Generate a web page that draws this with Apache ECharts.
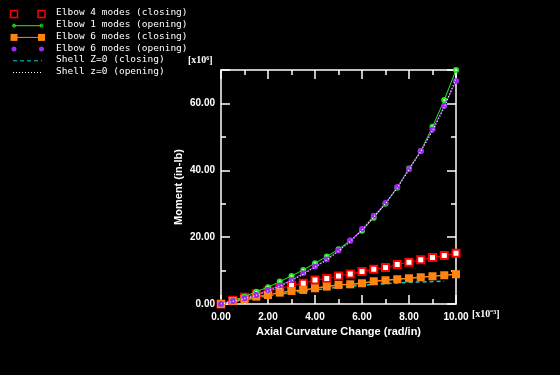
<!DOCTYPE html>
<html lang="en">
<head>
    <meta charset="UTF-8">
    <title>Moment vs Axial Curvature Change</title>
    <script src="https://cdn.jsdelivr.net/npm/echarts@6.0.0/dist/echarts.min.js"></script>
    <style>
        html, body { margin: 0; padding: 0; background: #000; }
    </style>
</head>
<body>
<div id="chart" style="width: 560px; height:375px;"></div>
<script>
    // curvature change (x10^-3 rad/in)
    var curvature = [0, 0.5, 1, 1.5, 2, 2.5, 3, 3.5, 4, 4.5, 5, 5.5, 6, 6.5, 7, 7.5, 8, 8.5, 9, 9.5, 10];

    // moment (x10^6 in-lb)
    var elbow4Closing = [0, 1.1, 2.0, 3.0, 3.9, 4.7, 5.5, 6.2, 7.2, 7.6, 8.4, 9.0, 9.7, 10.4, 10.9, 11.8, 12.5, 13.2, 13.9, 14.5, 15.2];
    var elbow1Opening = [0, 1.0, 2.2, 3.7, 5.0, 6.7, 8.4, 10.2, 12.2, 14.2, 16.4, 19.0, 21.9, 25.8, 30.0, 34.8, 40.5, 45.8, 53.0, 61.0, 70.0];
    var elbow6Closing = [0, 0.9, 1.5, 2.2, 2.7, 3.4, 3.9, 4.2, 4.7, 5.2, 5.7, 5.9, 6.2, 6.8, 7.1, 7.4, 7.7, 8.0, 8.3, 8.6, 8.9];
    var elbow6Opening = [0, 0.9, 1.7, 2.7, 4.2, 5.5, 7.2, 9.2, 11.2, 13.4, 16.0, 18.9, 22.4, 26.4, 30.2, 35.0, 40.3, 45.8, 52.2, 59.2, 66.7];
    var shellClosing = [0, 0.6, 1.2, 1.8, 2.4, 2.9, 3.4, 3.8, 4.2, 4.6, 5.0, 5.3, 5.6, 5.9, 6.1, 6.3, 6.5, 6.6, 6.7, 6.8];
    var shellOpening = [0, 0.8, 1.6, 2.6, 3.9, 5.3, 7.0, 8.9, 11.0, 13.2, 15.8, 18.7, 22.1, 26.0, 30.0, 34.7, 40.2, 45.6, 51.8, 58.8, 67.5];

    var seriesNames = ['Elbow 4 modes (closing)', 'Elbow 1 modes (opening)', 'Elbow 6 modes (closing)',
        'Elbow 6 modes (opening)', 'Shell Z=0 (closing)', 'Shell z=0 (opening)'];

    var xTicks = [0, 2, 4, 6, 8, 10];
    var yTicks = [0, 20, 40, 60];

    function pairs(ys) {
        return ys.map(function (y, i) { return [curvature[i], y]; });
    }

    var RED = '#ff0000', GREEN = '#22ee22', ORANGE = '#ff8410', PURPLE = '#9a2cf0', CYAN = '#00d2c8', WHITE = '#ffffff';

    var chart = echarts.init(document.getElementById('chart'));

    function axisLine() { return { onZero: false, lineStyle: { color: '#fff', width: 1.5 } }; }
    function tick() { return { show: true, inside: true, length: 9, lineStyle: { color: '#fff', width: 1.5 } }; }
    function minor() { return { show: true, splitNumber: 2, length: 5, lineStyle: { color: '#fff', width: 1.5 } }; }
    var labelFont = { color: '#fff', fontFamily: 'Liberation Sans', fontWeight: 'bold', fontSize: 10 };

    // legend drawn by hand: two symbols per row like the original plot
    var legendRows = [
        { color: RED, line: false, sym: 'openrect' },
        { color: GREEN, line: 'solid', sym: 'plus' },
        { color: ORANGE, line: 'solid', sym: 'rect' },
        { color: PURPLE, line: false, sym: 'dot' },
        { color: CYAN, line: 'dashed', sym: null },
        { color: WHITE, line: 'dotted', sym: null }
    ];
    var graphics = [];
    legendRows.forEach(function (r, i) {
        var y = 14 + i * 11.7;
        if (r.line) {
            graphics.push({ type: 'line', shape: { x1: 13, y1: y, x2: 42, y2: y },
                style: { stroke: r.color, lineWidth: 1, lineDash: r.line === 'dashed' ? [4, 3] : (r.line === 'dotted' ? [1, 2] : null) } });
        }
        [14, 41.5].forEach(function (x) {
            if (r.sym === 'openrect') {
                graphics.push({ type: 'rect', shape: { x: x - 3.5, y: y - 3.5, width: 7, height: 7 }, style: { fill: null, stroke: r.color, lineWidth: 1.5 } });
            } else if (r.sym === 'rect') {
                graphics.push({ type: 'rect', shape: { x: x - 3.5, y: y - 3.5, width: 7, height: 7 }, style: { fill: r.color } });
            } else if (r.sym === 'dot') {
                graphics.push({ type: 'circle', shape: { cx: x, cy: y, r: 2.5 }, style: { fill: r.color } });
            } else if (r.sym === 'plus') {
                graphics.push({ type: 'circle', shape: { cx: x, cy: y, r: 1.5 }, style: { fill: null, stroke: r.color, lineWidth: 1 } });
            }
        });
        graphics.push({ type: 'text', left: 56, top: y - 6,
            style: { text: seriesNames[i], fill: '#fff', font: '9.5px "DejaVu Sans Mono"' } });
    });
    graphics.push({ type: 'text', left: 188, top: 55,
        style: { text: '[x10⁶]', fill: '#fff', font: 'bold 10px "Liberation Serif"' } });
    graphics.push({ type: 'text', left: 472, top: 309,
        style: { text: '[x10⁻³]', fill: '#fff', font: 'bold 10px "Liberation Serif"' } });

    var option = {
        backgroundColor: '#000',
        animation: false,
        graphic: graphics,
        grid: { left: 221, right: 104, top: 70, bottom: 71, containLabel: false },
        xAxis: [
            {
                type: 'value', min: 0, max: 10, interval: 2,
                name: 'Axial Curvature Change (rad/in)', nameLocation: 'middle', nameGap: 22,
                nameTextStyle: { color: '#fff', fontFamily: 'Liberation Sans', fontWeight: 'bold', fontSize: 11 },
                axisLine: axisLine(), axisTick: tick(), minorTick: minor(),
                splitLine: { show: false },
                axisLabel: Object.assign({ margin: 8, formatter: function (v) {
                    return xTicks.indexOf(v) >= 0 ? v.toFixed(2) : ''; } }, labelFont)
            },
            {
                type: 'value', min: 0, max: 10, interval: 2, position: 'top',
                axisLine: axisLine(), axisTick: tick(), minorTick: minor(),
                splitLine: { show: false }, axisLabel: { show: false }
            }
        ],
        yAxis: [
            {
                type: 'value', min: 0, max: 70, interval: 20,
                name: 'Moment (in-lb)', nameLocation: 'middle', nameGap: 37, nameRotate: 90,
                nameTextStyle: { color: '#fff', fontFamily: 'Liberation Sans', fontWeight: 'bold', fontSize: 11 },
                axisLine: axisLine(), axisTick: tick(), minorTick: minor(),
                splitLine: { show: false },
                axisLabel: Object.assign({ margin: 6, showMaxLabel: false, formatter: function (v) {
                    return yTicks.indexOf(v) >= 0 ? v.toFixed(2) : ''; } }, labelFont)
            },
            {
                type: 'value', min: 0, max: 70, interval: 20, position: 'right',
                axisLine: axisLine(), axisTick: tick(), minorTick: minor(),
                splitLine: { show: false }, axisLabel: { show: false }
            }
        ],
        series: [
            {
                name: seriesNames[0], type: 'line', data: pairs(elbow4Closing),
                symbol: 'emptyRect', symbolSize: 7,
                lineStyle: { color: RED, width: 1 },
                itemStyle: { color: RED, borderColor: RED, borderWidth: 1.5 }, z: 3
            },
            {
                name: seriesNames[1], type: 'line', data: pairs(elbow1Opening),
                symbol: 'emptyCircle', symbolSize: 4,
                lineStyle: { color: GREEN, width: 1 },
                itemStyle: { color: GREEN, borderColor: GREEN, borderWidth: 1 }, z: 4
            },
            {
                name: seriesNames[2], type: 'line', data: pairs(elbow6Closing),
                symbol: 'rect', symbolSize: 8,
                lineStyle: { color: ORANGE, width: 1.5 },
                itemStyle: { color: ORANGE }, z: 3
            },
            {
                name: seriesNames[3], type: 'line', data: pairs(elbow6Opening),
                symbol: 'circle', symbolSize: 6,
                lineStyle: { color: PURPLE, width: 1 },
                itemStyle: { color: PURPLE }, z: 5
            },
            {
                name: seriesNames[4], type: 'line', data: pairs(shellClosing),
                symbol: 'none',
                lineStyle: { color: CYAN, width: 1.5, type: [4, 3] }, z: 2
            },
            {
                name: seriesNames[5], type: 'line', data: pairs(shellOpening),
                symbol: 'none',
                lineStyle: { color: WHITE, width: 1.2, type: [1, 2] }, z: 6
            }
        ]
    };
    chart.setOption(option);
</script>
</body>
</html>
